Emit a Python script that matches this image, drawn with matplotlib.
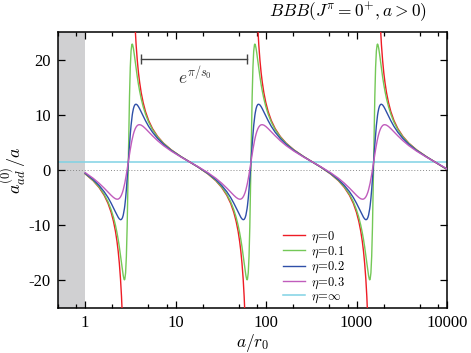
import numpy as np
import matplotlib
matplotlib.use('Agg')
import matplotlib.pyplot as plt
from matplotlib.ticker import FixedLocator, LogLocator, NullFormatter

# a/r0 grid (denser near each pole)
a_r0 = [
    1.0, 1.227, 1.424, 1.62, 1.79, 1.937, 2.057, 2.162, 2.249, 2.317, 2.387, 2.459,
    2.521, 2.585, 2.636, 2.689, 2.716, 2.744, 2.799, 2.855, 2.912, 2.970, 3.0, 3.030,
    3.091, 3.153, 3.216, 3.280, 3.314, 3.347, 3.414, 3.482, 3.570, 3.659, 3.771, 3.884,
    4.003, 4.164, 4.376, 4.646, 5.030, 5.556, 6.323, 7.337, 8.952, 11.47,
    14.30, 17.81, 22.82, 27.85, 32.31, 36.77, 40.62, 43.97, 46.68, 49.07, 51.04, 52.59,
    54.18, 55.83, 57.22, 58.67, 59.85, 61.04, 61.66, 62.28, 63.53, 64.80, 66.10, 67.43,
    68.1, 68.78, 70.16, 71.57, 73.00, 74.46, 75.22, 75.98, 77.49, 79.05, 81.04, 83.07,
    85.60, 88.18, 90.86, 94.52, 99.34, 105.5, 114.2, 126.1, 143.5, 166.5, 203.2, 260.4,
    324.7, 404.3, 518.1, 632.2, 733.6, 834.8, 922.2, 998.3, 1059.8, 1113.9, 1158.7, 1194.0,
    1230.0, 1267.4, 1299.1, 1331.9, 1358.6, 1385.7, 1399.7, 1414.0, 1442.3, 1471.0, 1500.7, 1530.7,
    1546.0, 1561.5, 1592.7, 1624.8, 1657.3, 1690.4, 1707.6, 1724.9, 1759.3, 1794.6, 1839.7, 1885.8,
    1943.2, 2001.8, 2062.6, 2145.7, 2256.8, 2394.3, 2591.9, 2863.0, 3258.0, 3781.0, 4613.0, 5912.0,
    7362.0, 8375.0, 10000.0,
]

nan = np.nan

# eta = 0
aad_eta0 = [
    -0.70, -1.95, -3.16, -4.57, -6.05, -7.67, -9.31, -11.09, -12.95, -14.70, -16.91, -19.75,
    -22.86, -26.99, nan, nan, nan, nan, nan, nan, nan, nan, nan, nan,
    nan, nan, nan, nan, nan, nan, nan, 29.91, 25.78, 22.67, 19.83, 17.62,
    15.87, 14.01, 12.23, 10.59, 8.97, 7.49, 6.08, 4.87, 3.65, 2.43,
    1.46, 0.50, -0.73, -1.95, -3.16, -4.57, -6.05, -7.67, -9.31, -11.09, -12.95, -14.70,
    -16.91, -19.75, -22.86, -26.99, nan, nan, nan, nan, nan, nan, nan, nan,
    nan, nan, nan, nan, nan, nan, nan, nan, nan, 29.91, 25.78, 22.67,
    19.83, 17.62, 15.87, 14.01, 12.23, 10.59, 8.97, 7.49, 6.08, 4.87, 3.65, 2.43,
    1.46, 0.50, -0.73, -1.95, -3.16, -4.57, -6.05, -7.67, -9.31, -11.09, -12.95, -14.70,
    -16.91, -19.75, -22.86, -26.99, nan, nan, nan, nan, nan, nan, nan, nan,
    nan, nan, nan, nan, nan, nan, nan, nan, nan, 29.91, 25.78, 22.67,
    19.83, 17.62, 15.87, 14.01, 12.23, 10.59, 8.97, 7.49, 6.08, 4.87, 3.65, 2.43,
    1.46, 0.90, 0.09,
]

# eta = 0.1
aad_eta01 = [
    -0.67, -1.90, -3.06, -4.39, -5.76, -7.20, -8.57, -10.00, -11.37, -12.57, -13.93, -15.45,
    -16.81, -18.17, -19.13, -19.79, -19.90, -19.79, -18.64, -15.66, -10.33, -2.78, 1.46, 5.70,
    13.25, 18.58, 21.56, 22.71, 22.82, 22.70, 22.05, 21.09, 19.73, 18.37, 16.85, 15.49,
    14.29, 12.92, 11.49, 10.12, 8.68, 7.31, 5.98, 4.82, 3.62, 2.42,
    1.46, 0.51, -0.70, -1.90, -3.06, -4.39, -5.76, -7.20, -8.57, -10.00, -11.37, -12.57,
    -13.93, -15.45, -16.81, -18.17, -19.13, -19.79, -19.90, -19.79, -18.64, -15.66, -10.33, -2.78,
    1.46, 5.70, 13.25, 18.58, 21.56, 22.71, 22.82, 22.70, 22.05, 21.09, 19.73, 18.37,
    16.85, 15.49, 14.29, 12.92, 11.49, 10.12, 8.68, 7.31, 5.98, 4.82, 3.62, 2.42,
    1.46, 0.51, -0.70, -1.90, -3.06, -4.39, -5.76, -7.20, -8.57, -10.00, -11.37, -12.57,
    -13.93, -15.45, -16.81, -18.17, -19.13, -19.79, -19.90, -19.79, -18.64, -15.66, -10.33, -2.78,
    1.46, 5.70, 13.25, 18.58, 21.56, 22.71, 22.82, 22.70, 22.05, 21.09, 19.73, 18.37,
    16.85, 15.49, 14.29, 12.92, 11.49, 10.12, 8.68, 7.31, 5.98, 4.82, 3.62, 2.42,
    1.46, 0.91, 0.11,
]

# eta = 0.2
aad_eta02 = [
    -0.59, -1.74, -2.79, -3.92, -4.99, -6.01, -6.86, -7.60, -8.17, -8.56, -8.86, -9.01,
    -8.95, -8.65, -8.18, -7.46, -7.00, -6.46, -5.15, -3.53, -1.65, 0.40, 1.46, 2.52,
    4.57, 6.45, 8.06, 9.38, 9.92, 10.38, 11.10, 11.57, 11.87, 11.92, 11.78, 11.48,
    11.09, 10.52, 9.78, 8.93, 7.91, 6.84, 5.71, 4.66, 3.54, 2.39,
    1.46, 0.53, -0.62, -1.74, -2.79, -3.92, -4.99, -6.01, -6.86, -7.60, -8.17, -8.56,
    -8.86, -9.01, -8.95, -8.65, -8.18, -7.46, -7.00, -6.46, -5.15, -3.53, -1.65, 0.40,
    1.46, 2.52, 4.57, 6.45, 8.06, 9.38, 9.92, 10.38, 11.10, 11.57, 11.87, 11.92,
    11.78, 11.48, 11.09, 10.52, 9.78, 8.93, 7.91, 6.84, 5.71, 4.66, 3.54, 2.39,
    1.46, 0.53, -0.62, -1.74, -2.79, -3.92, -4.99, -6.01, -6.86, -7.60, -8.17, -8.56,
    -8.86, -9.01, -8.95, -8.65, -8.18, -7.46, -7.00, -6.46, -5.15, -3.53, -1.65, 0.40,
    1.46, 2.52, 4.57, 6.45, 8.06, 9.38, 9.92, 10.38, 11.10, 11.57, 11.87, 11.92,
    11.78, 11.48, 11.09, 10.52, 9.78, 8.93, 7.91, 6.84, 5.71, 4.66, 3.54, 2.39,
    1.46, 0.92, 0.15,
]

# eta = 0.3
aad_eta03 = [
    -0.47, -1.50, -2.39, -3.27, -4.00, -4.58, -4.97, -5.21, -5.29, -5.27, -5.14, -4.87,
    -4.53, -4.06, -3.59, -3.02, -2.70, -2.36, -1.61, -0.79, 0.08, 1.00, 1.46, 1.92,
    2.84, 3.71, 4.53, 5.28, 5.62, 5.94, 6.51, 6.98, 7.45, 7.79, 8.06, 8.19,
    8.21, 8.13, 7.89, 7.50, 6.92, 6.19, 5.31, 4.42, 3.42, 2.34,
    1.46, 0.58, -0.50, -1.50, -2.39, -3.27, -4.00, -4.58, -4.97, -5.21, -5.29, -5.27,
    -5.14, -4.87, -4.53, -4.06, -3.59, -3.02, -2.70, -2.36, -1.61, -0.79, 0.08, 1.00,
    1.46, 1.92, 2.84, 3.71, 4.53, 5.28, 5.62, 5.94, 6.51, 6.98, 7.45, 7.79,
    8.06, 8.19, 8.21, 8.13, 7.89, 7.50, 6.92, 6.19, 5.31, 4.42, 3.42, 2.34,
    1.46, 0.58, -0.50, -1.50, -2.39, -3.27, -4.00, -4.58, -4.97, -5.21, -5.29, -5.27,
    -5.14, -4.87, -4.53, -4.06, -3.59, -3.02, -2.70, -2.36, -1.61, -0.79, 0.08, 1.00,
    1.46, 1.92, 2.84, 3.71, 4.53, 5.28, 5.62, 5.94, 6.51, 6.98, 7.45, 7.79,
    8.06, 8.19, 8.21, 8.13, 7.89, 7.50, 6.92, 6.19, 5.31, 4.42, 3.42, 2.34,
    1.46, 0.95, 0.22,
]

# eta = infinity : constant
aad_inf = 1.46

x_ticks = [1, 10, 100, 1000, 10000]
x_ticklabels = ['1', '10', '100', '1000', '10000']
y_ticks = [-20, -10, 0, 10, 20]
y_ticklabels = ['-20', '-10', '0', '10', '20']

plt.rcParams['font.family'] = 'Liberation Serif'
plt.rcParams['mathtext.fontset'] = 'cm'

fig = plt.figure(figsize=(4.71, 3.53), dpi=100)
ax = fig.add_axes([0.123, 0.1275, 0.826, 0.7818])

# unphysical region a < r0
ax.axvspan(0.5, 1.0, color='#d0d0d2', lw=0, zorder=0)
ax.axhline(0, color='#8a8a8a', ls=(0, (1, 2)), lw=0.7, zorder=1)

l_inf = ax.axhline(aad_inf, color='#80d2e4', lw=1.1, zorder=2, label=r'$\eta\!=\!\infty$')
l0, = ax.plot(a_r0, aad_eta0, color='#ee1c25', lw=1.0, zorder=3, label=r'$\eta\!=\!0$')
l1, = ax.plot(a_r0, aad_eta01, color='#74c857', lw=1.0, zorder=4, label=r'$\eta\!=\!0.1$')
l2, = ax.plot(a_r0, aad_eta02, color='#2f4fa8', lw=1.0, zorder=5, label=r'$\eta\!=\!0.2$')
l3, = ax.plot(a_r0, aad_eta03, color='#c05cbc', lw=1.0, zorder=6, label=r'$\eta\!=\!0.3$')

# period marker e^{pi/s0}
ax.plot([4.16, 61.5], [20.2, 20.2], color='#444444', lw=1.0, marker='|', ms=7, mew=1.0, zorder=7)
ax.text(16.5, 17.0, r'$e^{\pi/s_0}$', ha='center', va='center', fontsize=12.5, color='#333333')

ax.set_xscale('log')
ax.set_xlim(0.5, 10000)
ax.set_ylim(-25, 25)

ax.xaxis.set_major_locator(FixedLocator(x_ticks))
ax.set_xticklabels(x_ticklabels)
ax.xaxis.set_minor_locator(LogLocator(base=10, subs=[2, 5, 8], numticks=20))
ax.xaxis.set_minor_formatter(NullFormatter())
ax.set_yticks(y_ticks)
ax.set_yticklabels(y_ticklabels)

ax.tick_params(which='both', direction='in', top=True, right=True, labelsize=12, width=0.9)
ax.tick_params(which='major', length=5, pad=5)
ax.tick_params(which='minor', length=3)
for s in ax.spines.values():
    s.set_linewidth(1.1)

ax.set_xlabel(r'$a/r_0$', fontsize=12.5)
ax.xaxis.set_label_coords(0.5, -0.088)
ax.set_ylabel(r'$a_{ad}^{(0)}/a$', fontsize=13)
ax.yaxis.set_label_coords(-0.075, 0.5)

ax.text(0.948, 1.072, r'$BBB(J^{\pi}=0^{+},a>0)$', transform=ax.transAxes,
        ha='right', va='center', fontsize=12.5)

ax.legend(handles=[l0, l1, l2, l3, l_inf], loc='upper left', bbox_to_anchor=(0.578, 0.285),
          frameon=False, fontsize=9, handlelength=1.8, handletextpad=0.45,
          labelspacing=0.0, borderpad=0, borderaxespad=0)

fig.savefig('out.png', dpi=100)
